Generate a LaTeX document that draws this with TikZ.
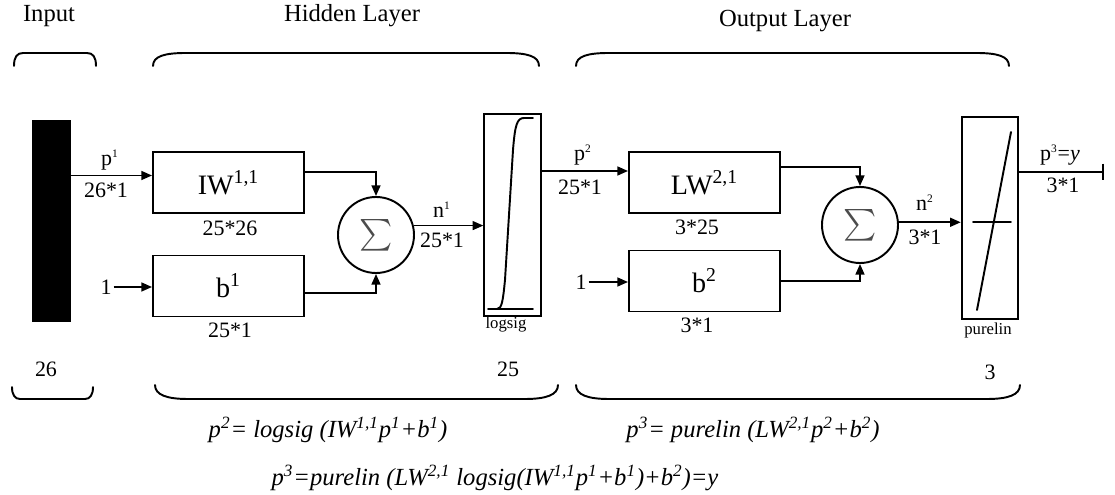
\documentclass[tikz,border=0pt]{standalone}
\usepackage{fontspec}
\usepackage{graphicx}
\setmainfont{Liberation Serif}
\usetikzlibrary{arrows.meta}
\newcommand{\lblsup}[1]{\textsuperscript{\fontsize{6.5}{7}\selectfont #1}}
\tikzset{
  wbox/.style={draw, line width=1.1pt, minimum width=3.02cm, minimum height=1.22cm, inner sep=0pt, font=\fontsize{16}{19}\selectfont},
  sumnode/.style={circle, draw, line width=1.1pt, minimum size=1.52cm, inner sep=0pt, text=black!70},
  tfbox/.style={draw, line width=1.1pt, minimum width=1.13cm, minimum height=4.04cm, inner sep=0pt},
  inbar/.style={fill=black, minimum width=0.78cm, minimum height=4.04cm, inner sep=0pt},
  wire/.style={line width=1pt},
  flow/.style={wire, -{Triangle[length=6pt,width=5pt]}},
  endbar/.style={wire, -{Bar[width=9.5pt,line width=1.1pt]}},
  curve/.style={line width=1.1pt, line cap=round, line join=round},
  layerbrace/.style={line width=1.1pt, line cap=round},
  dimlabel/.style={font=\fontsize{12.5}{14}\selectfont, inner sep=1pt},
  tflabel/.style={font=\fontsize{9.5}{11}\selectfont, inner sep=1pt},
  title/.style={font=\fontsize{14}{16}\selectfont},
  eqn/.style={font=\fontsize{14}{16}\selectfont\itshape},
}
\begin{document}
\begin{tikzpicture}
\useasboundingbox (0,0) rectangle (22.300,9.900);
% titles and braces
\node[title] (intitle) at (0.980,9.580) {Input};
\node[title] (hidtitle) at (7.040,9.580) {Hidden Layer};
\node[title] (outtitle) at (15.700,9.480) {Output Layer};
\draw[layerbrace] (0.280,8.580) .. controls (0.280,8.760) and (0.340,8.840) .. (0.460,8.840) -- (1.740,8.840) .. controls (1.860,8.840) and (1.920,8.760) .. (1.920,8.580);
\draw[layerbrace] (3.060,8.580) .. controls (3.060,8.780) and (3.300,8.840) .. (3.720,8.840) -- (10.120,8.840) .. controls (10.540,8.840) and (10.780,8.780) .. (10.780,8.580);
\draw[layerbrace] (11.520,8.580) .. controls (11.520,8.780) and (11.760,8.840) .. (12.180,8.840) -- (19.520,8.840) .. controls (19.940,8.840) and (20.180,8.780) .. (20.180,8.580);
\draw[layerbrace] (0.240,2.160) .. controls (0.240,2.000) and (0.300,1.920) .. (0.400,1.920) -- (1.700,1.920) .. controls (1.800,1.920) and (1.860,2.000) .. (1.860,2.160);
\draw[layerbrace] (3.100,2.200) .. controls (3.100,2.000) and (3.340,1.920) .. (3.760,1.920) -- (10.500,1.920) .. controls (10.920,1.920) and (11.160,2.000) .. (11.160,2.200);
\draw[layerbrace] (11.520,2.200) .. controls (11.520,2.000) and (11.760,1.920) .. (12.180,1.920) -- (19.740,1.920) .. controls (20.160,1.920) and (20.400,2.000) .. (20.400,2.200);
\node[dimlabel] (insize) at (0.920,2.520) {26};
\node[dimlabel] (hidsize) at (10.160,2.520) {25};
\node[dimlabel] (outsize) at (19.800,2.460) {3};
% input
\node[inbar] (inbar) at (1.030,5.480) {};
% hidden layer
\node[wbox] (iw) at (4.570,6.250) {IW\textsuperscript{1,1}};
\node[wbox] (b1) at (4.570,4.180) {b\textsuperscript{1}};
\node[sumnode] (sum1) at (7.520,5.200) {\scalebox{1.8}{$\sum$}};
\node[tfbox] (lsig) at (10.250,5.600) {};
\draw[curve] (9.760,3.720) -- (10.660,3.720);
\draw[curve] (9.940,3.720) .. controls (10.040,3.720) and (10.060,3.900) .. (10.100,4.300) -- (10.260,6.900) .. controls (10.300,7.400) and (10.340,7.540) .. (10.480,7.540) -- (10.660,7.540);
\node[tflabel] (lsiglbl) at (10.120,3.400) {logsig};
\node[dimlabel] (one1) at (2.120,4.160) {1};
\coordinate (p1in) at ([yshift=0.14cm]iw.west);
\draw[flow] (p1in -| inbar.east) -- (p1in);
\draw[flow] (one1.east) -- (one1.east -| b1.west);
\draw[flow] ([yshift=0.21cm]iw.east) -| (sum1.north);
\draw[flow] ([yshift=-0.14cm]b1.east) -| (sum1.south);
\draw[flow] (sum1.14) -- (sum1.14 -| lsig.west);
\node[dimlabel] (p1lbl) at (2.200,6.700) {p\lblsup{1}};
\node[dimlabel] (p1dim) at (2.120,6.100) {26*1};
\node[dimlabel] (iwdim) at (4.600,5.340) {25*26};
\node[dimlabel] (b1dim) at (4.600,3.300) {25*1};
\node[dimlabel] (n1lbl) at (8.840,5.700) {n\lblsup{1}};
\node[dimlabel] (n1dim) at (8.840,5.100) {25*1};
% output layer
\node[wbox] (lw) at (14.090,6.250) {LW\textsuperscript{2,1}};
\node[wbox] (b2) at (14.090,4.280) {b\textsuperscript{2}};
\node[sumnode] (sum2) at (17.200,5.400) {\scalebox{1.8}{$\sum$}};
\node[tfbox] (plin) at (19.800,5.540) {};
\draw[curve] (19.540,3.700) -- (20.220,7.260);
\draw[curve] (19.460,5.460) -- (20.220,5.460);
\node[tflabel] (plinlbl) at (19.760,3.300) {purelin};
\node[dimlabel] (one2) at (11.620,4.260) {1};
\coordinate (p2in) at ([yshift=0.23cm]lw.west);
\coordinate (outend) at (22.080,6.460);
\draw[flow] (p2in -| lsig.east) -- (p2in);
\draw[flow] (one2.east) -- (one2.east -| b2.west);
\draw[flow] ([yshift=0.31cm]lw.east) -| (sum2.north);
\draw[flow] (b2.east) -| (sum2.south);
\draw[flow] (sum2.4) -- (sum2.4 -| plin.west);
\draw[endbar] (outend -| plin.east) -- (outend);
\node[dimlabel] (p2lbl) at (11.660,6.800) {p\lblsup{2}};
\node[dimlabel] (p2dim) at (11.600,6.160) {25*1};
\node[dimlabel] (lwdim) at (13.940,5.360) {3*25};
\node[dimlabel] (b2dim) at (13.940,3.400) {3*1};
\node[dimlabel] (n2lbl) at (18.500,5.840) {n\lblsup{2}};
\node[dimlabel] (n2dim) at (18.500,5.160) {3*1};
\node[dimlabel] (p3lbl) at (21.200,6.800) {p\lblsup{3}=\textit{y}};
\node[dimlabel] (p3dim) at (21.260,6.200) {3*1};
% equations
\node[eqn] (eqhid) at (6.560,1.300) {p\textsuperscript{2}= logsig (IW\textsuperscript{1,1}p\textsuperscript{1}+b\textsuperscript{1})};
\node[eqn] (eqout) at (15.060,1.300) {p\textsuperscript{3}= purelin (LW\textsuperscript{2,1}p\textsuperscript{2}+b\textsuperscript{2})};
\node[eqn] (eqall) at (9.900,0.340) {p\textsuperscript{3}=purelin (LW\textsuperscript{2,1} logsig(IW\textsuperscript{1,1}p\textsuperscript{1}+b\textsuperscript{1})+b\textsuperscript{2})=y};
\end{tikzpicture}
\end{document}
